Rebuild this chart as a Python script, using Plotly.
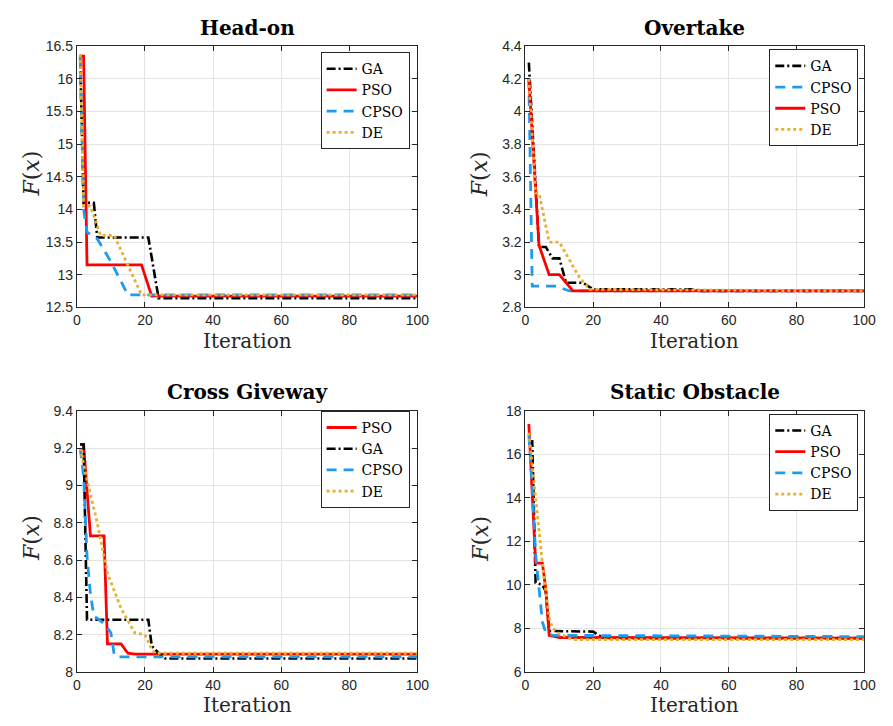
import plotly.graph_objects as go

# page is 893x726; the browser body keeps its default 8px margin
PAGE_W, PAGE_H = 893, 726
OFF = 8
W, H = PAGE_W - 2 * OFF, PAGE_H - 2 * OFF

# ---------------- data ----------------
# Head-on
HO_GA_X = [1, 2, 5, 6, 21, 24, 100]
HO_GA_Y = [16.3, 14.1, 14.1, 13.57, 13.57, 12.64, 12.64]
HO_PSO_X = [1, 2, 3, 19, 22, 100]
HO_PSO_Y = [16.35, 16.35, 13.15, 13.15, 12.67, 12.67]
HO_CPSO_X = [1, 2, 3, 6, 10, 15, 100]
HO_CPSO_Y = [16.35, 14.0, 13.65, 13.55, 13.2, 12.69, 12.69]
HO_DE_X = [1, 2, 4, 7, 11, 19, 100]
HO_DE_Y = [16.38, 14.05, 14.05, 13.6, 13.6, 12.69, 12.69]

# Overtake
OT_GA_X = [1, 4, 6, 8, 10, 12, 17, 20, 50, 51, 100]
OT_GA_Y = [4.3, 3.17, 3.17, 3.1, 3.1, 2.95, 2.95, 2.91, 2.91, 2.9, 2.9]
OT_CPSO_X = [1, 2, 9, 13, 100]
OT_CPSO_Y = [4.2, 2.93, 2.93, 2.9, 2.9]
OT_PSO_X = [1, 3, 4, 7, 10, 14, 100]
OT_PSO_Y = [4.2, 3.5, 3.18, 3.0, 3.0, 2.9, 2.9]
OT_DE_X = [1, 3, 4, 7, 10, 16, 19, 100]
OT_DE_Y = [4.2, 3.5, 3.5, 3.2, 3.2, 2.98, 2.91, 2.9]

# Cross Giveway
CG_PSO_X = [1, 2, 4, 8, 9, 13, 15, 17, 100]
CG_PSO_Y = [9.22, 9.22, 8.73, 8.73, 8.15, 8.15, 8.1, 8.095, 8.095]
CG_GA_X = [1, 2, 3, 21, 22, 24, 26, 100]
CG_GA_Y = [9.22, 9.22, 8.28, 8.28, 8.14, 8.1, 8.072, 8.072]
CG_CPSO_X = [1, 2, 3, 4, 5, 8, 10, 11, 12, 100]
CG_CPSO_Y = [9.2, 9.05, 8.62, 8.42, 8.3, 8.26, 8.21, 8.09, 8.08, 8.08]
CG_DE_X = [1, 3, 6, 9, 13, 17, 20, 22, 23, 100]
CG_DE_Y = [9.2, 9.03, 8.8, 8.53, 8.34, 8.21, 8.2, 8.12, 8.1, 8.1]

# Static Obstacle
SO_GA_X = [1, 2, 3, 5, 6, 7, 20, 22, 25, 100]
SO_GA_Y = [16.6, 16.6, 10.1, 10.0, 9.7, 7.88, 7.85, 7.65, 7.55, 7.55]
SO_PSO_X = [1, 3, 5, 6, 7, 10, 100]
SO_PSO_Y = [17.4, 11.0, 11.0, 9.8, 7.68, 7.58, 7.55]
SO_CPSO_X = [1, 2, 3, 4, 5, 6, 8, 100]
SO_CPSO_Y = [16.9, 14.5, 11.4, 9.9, 8.3, 7.8, 7.68, 7.62]
SO_DE_X = [1, 3, 5, 7, 8, 10, 14, 100]
SO_DE_Y = [17.0, 14.0, 11.0, 8.5, 8.0, 7.75, 7.48, 7.48]

TITLES = ["Head-on", "Overtake", "Cross Giveway", "Static Obstacle"]
X_TICKS = [0, 20, 40, 60, 80, 100]
Y_TICKS = [
    [12.5, 13, 13.5, 14, 14.5, 15, 15.5, 16, 16.5],
    [2.8, 3, 3.2, 3.4, 3.6, 3.8, 4, 4.2, 4.4],
    [8, 8.2, 8.4, 8.6, 8.8, 9, 9.2, 9.4],
    [6, 8, 10, 12, 14, 16, 18],
]

# ---------------- styles ----------------
STYLE = {
    "GA": dict(color="#000000", width=2.6, dash="9px,3px,2px,3px"),
    "PSO": dict(color="#FF0000", width=2.8, dash="solid"),
    "CPSO": dict(color="#1E9BEF", width=2.8, dash="10px,7px"),
    "DE": dict(color="#E6B030", width=2.8, dash="3px,3px"),
}

PANELS = [
    [("GA", HO_GA_X, HO_GA_Y), ("PSO", HO_PSO_X, HO_PSO_Y),
     ("CPSO", HO_CPSO_X, HO_CPSO_Y), ("DE", HO_DE_X, HO_DE_Y)],
    [("GA", OT_GA_X, OT_GA_Y), ("CPSO", OT_CPSO_X, OT_CPSO_Y),
     ("PSO", OT_PSO_X, OT_PSO_Y), ("DE", OT_DE_X, OT_DE_Y)],
    [("PSO", CG_PSO_X, CG_PSO_Y), ("GA", CG_GA_X, CG_GA_Y),
     ("CPSO", CG_CPSO_X, CG_CPSO_Y), ("DE", CG_DE_X, CG_DE_Y)],
    [("GA", SO_GA_X, SO_GA_Y), ("PSO", SO_PSO_X, SO_PSO_Y),
     ("CPSO", SO_CPSO_X, SO_CPSO_Y), ("DE", SO_DE_X, SO_DE_Y)],
]

# plot-area boxes in page pixels (left, right, top, bottom)
BOXES = [(74, 421, 39, 306), (531, 876, 39, 306),
         (74, 421, 412, 679), (531, 876, 412, 679)]
LEG_POS = [(413, 45), (870, 42), (413, 412), (870, 415)]


def px(xp):
    return (xp - OFF) / W


def py(yp):
    return 1 - (yp - OFF) / H


fig = go.Figure()
AX = "#262626"
TICKFONT = dict(family="Liberation Sans, Arial, sans-serif", size=14, color=AX)

layout = dict(width=W, height=H, margin=dict(l=0, r=0, t=0, b=0),
              paper_bgcolor="white", plot_bgcolor="white", showlegend=True,
              annotations=[])

for i, panel in enumerate(PANELS):
    n = "" if i == 0 else str(i + 1)
    l, r, t, b = BOXES[i]
    yt = Y_TICKS[i]
    layout["xaxis" + n] = dict(
        domain=[px(l), px(r)], range=[0, 100], tickvals=X_TICKS, anchor="y" + n,
        showgrid=True, gridcolor="#E3E3E3", gridwidth=1, zeroline=False,
        showline=True, linecolor=AX, linewidth=1, mirror="allticks",
        ticks="inside", ticklen=5, tickcolor=AX, tickfont=TICKFONT)
    layout["yaxis" + n] = dict(
        domain=[py(b), py(t)], range=[yt[0], yt[-1]], tickvals=yt,
        ticktext=[("%g" % v) for v in yt], anchor="x" + n,
        showgrid=True, gridcolor="#E3E3E3", gridwidth=1, zeroline=False,
        showline=True, linecolor=AX, linewidth=1, mirror="allticks",
        ticks="inside", ticklen=5, tickcolor=AX, tickfont=TICKFONT)
    leg = "legend" + n
    lx, ly = LEG_POS[i]
    layout[leg] = dict(x=px(lx), y=py(ly), xanchor="right", yanchor="top",
                       bgcolor="white", bordercolor=AX, borderwidth=1,
                       font=dict(family="DejaVu Serif, serif", size=14, color="#000"),
                       itemwidth=30, tracegroupgap=0, traceorder="normal")
    for name, xs, ys in panel:
        fig.add_trace(go.Scatter(x=xs, y=ys, mode="lines", name=name,
                                 line=STYLE[name], xaxis="x" + n, yaxis="y" + n,
                                 legend=leg, showlegend=True))
    cx = px((l + r) / 2)
    # title
    layout["annotations"].append(dict(
        text="<b>%s</b>" % TITLES[i], x=cx, y=py(t - 19), xref="paper", yref="paper",
        xanchor="center", yanchor="middle", showarrow=False,
        font=dict(family="DejaVu Serif, serif", size=20, color="#000")))
    # x label
    layout["annotations"].append(dict(
        text="Iteration", x=cx, y=py(b + 34), xref="paper", yref="paper",
        xanchor="center", yanchor="middle", showarrow=False,
        font=dict(family="DejaVu Serif, serif", size=20, color="#262626")))
    # y label
    layout["annotations"].append(dict(
        text="<i>F</i>(<i>x</i>)", x=px(l - 46), y=py((t + b) / 2 - 3),
        xref="paper", yref="paper", xanchor="center", yanchor="middle",
        textangle=-90, showarrow=False,
        font=dict(family="DejaVu Serif, serif", size=22, color="#262626")))

fig.update_layout(**layout)
fig.write_html("out.html", config={"displayModeBar": False})
